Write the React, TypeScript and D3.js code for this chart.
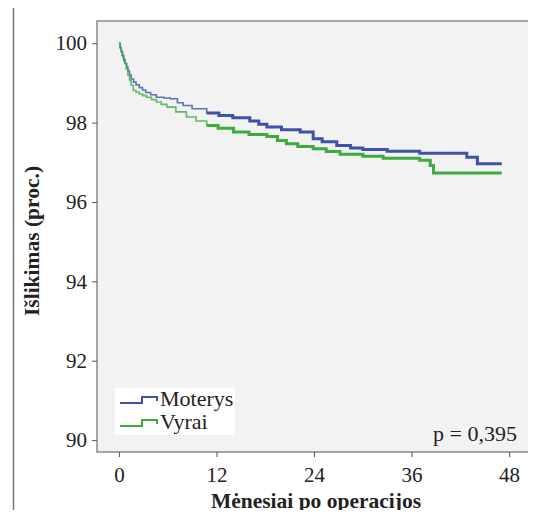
import React, { useEffect, useRef } from 'react';
import * as d3 from 'd3';

// Kaplan-Meier kreivės (nuskaityta nuo paveikslo)
const moterysMonths = [0, 0.15, 0.3, 0.45, 0.6, 0.75, 0.95, 1.1, 1.3, 1.5, 1.8, 2.1, 2.5, 2.9, 3.3, 3.9, 4.6, 5.5, 6.3, 7.2, 7.9, 9.0, 10.8, 12.3, 14.0, 16.1, 17.2, 18.2, 20.0, 22.3, 23.9, 25.0, 26.8, 28.5, 30.0, 33.0, 37.0, 42.8, 44.1, 47.1];
const moterysValues = [100, 99.88, 99.78, 99.68, 99.58, 99.49, 99.4, 99.3, 99.2, 99.1, 99.02, 98.95, 98.88, 98.82, 98.76, 98.7, 98.64, 98.62, 98.6, 98.5, 98.43, 98.35, 98.24, 98.18, 98.12, 98.04, 97.96, 97.89, 97.82, 97.76, 97.59, 97.52, 97.42, 97.36, 97.32, 97.28, 97.23, 97.13, 96.96, 96.96];

const vyraiMonths = [0, 0.12, 0.25, 0.37, 0.5, 0.62, 0.74, 0.9, 1.1, 1.3, 1.5, 1.76, 2.1, 2.5, 2.9, 3.4, 4.0, 4.6, 5.2, 5.9, 7.0, 8.3, 9.5, 10.8, 12.2, 14.1, 16.0, 18.2, 19.5, 20.6, 22.0, 23.9, 25.5, 27.2, 30.0, 32.5, 37.0, 38.3, 38.7, 47.1];
const vyraiValues = [100, 99.9, 99.8, 99.7, 99.62, 99.55, 99.49, 99.35, 99.2, 99.06, 98.94, 98.81, 98.77, 98.72, 98.68, 98.64, 98.58, 98.52, 98.46, 98.39, 98.27, 98.14, 98.04, 97.93, 97.86, 97.76, 97.7, 97.65, 97.55, 97.47, 97.4, 97.34, 97.27, 97.2, 97.15, 97.1, 97.05, 96.92, 96.73, 96.73];

const xTicks = [0, 12, 24, 36, 48];
const yTicks = [90, 92, 94, 96, 98, 100];
const seriesNames = ['Moterys', 'Vyrai'];
const seriesColors = ['#3f51a8', '#3dac3f'];

const FONT = "'Liberation Serif', 'Times New Roman', serif";

const App = () => {
  const ref = useRef(null);

  useEffect(() => {
    const W = 536;
    const H = 518;
    const plot = { left: 97, top: 21, right: 529, bottom: 452 };

    d3.select(ref.current).selectAll('*').remove();
    const svg = d3
      .select(ref.current)
      .append('svg')
      .attr('width', W)
      .attr('height', H)
      .style('display', 'block');

    svg.append('rect').attr('width', W).attr('height', H).attr('fill', '#fff');

    // išorinis rėmelis
    svg
      .append('path')
      .attr('d', `M13.5,${H} V5.5 H${W}`)
      .attr('fill', 'none')
      .attr('stroke', '#777')
      .attr('stroke-width', 1.5);

    const x = d3.scaleLinear().domain([-2.7, 50.45]).range([plot.left, plot.right]);
    const y = d3.scaleLinear().domain([89.7, 100.56]).range([plot.bottom, plot.top]);

    // fonas
    svg
      .append('rect')
      .attr('x', plot.left)
      .attr('y', plot.top)
      .attr('width', plot.right - plot.left)
      .attr('height', plot.bottom - plot.top)
      .attr('fill', '#f2f2f2')
      .attr('stroke', '#8a8a8a')
      .attr('stroke-width', 1.5);

    // ašys
    const xAxis = svg
      .append('g')
      .attr('transform', `translate(0,${plot.bottom})`)
      .call(d3.axisBottom(x).tickValues(xTicks).tickSize(5).tickPadding(10));
    xAxis.select('.domain').remove();
    xAxis.selectAll('line').attr('stroke', '#555');
    xAxis.selectAll('text').attr('class', 'tick-lbl');

    const yAxis = svg
      .append('g')
      .attr('transform', `translate(${plot.left},0)`)
      .call(d3.axisLeft(y).tickValues(yTicks).tickSize(5).tickPadding(5));
    yAxis.select('.domain').remove();
    yAxis.selectAll('line').attr('stroke', '#555');
    yAxis.selectAll('text').attr('class', 'tick-lbl');

    // kreivės
    const line = d3
      .line()
      .x(d => x(d[0]))
      .y(d => y(d[1]))
      .curve(d3.curveStepAfter);

    const series = [
      d3.zip(moterysMonths, moterysValues),
      d3.zip(vyraiMonths, vyraiValues),
    ];

    series.forEach((pts, i) => {
      const split = pts.findIndex(p => p[0] >= 12);
      svg
        .append('path')
        .attr('d', line(pts.slice(0, split + 1)))
        .attr('fill', 'none')
        .attr('stroke', seriesColors[i])
        .attr('stroke-opacity', 0.8)
        .attr('stroke-width', 1.6);
      svg
        .append('path')
        .attr('d', line(pts.slice(split - 1)))
        .attr('fill', 'none')
        .attr('stroke', seriesColors[i])
        .attr('stroke-width', 3);
    });

    // legenda
    const legend = svg.append('g').attr('transform', 'translate(115,388)');
    legend.append('rect').attr('width', 120).attr('height', 47).attr('fill', '#fff');
    seriesNames.forEach((name, i) => {
      const g = legend.append('g').attr('transform', `translate(0,${i * 23})`);
      g.append('path')
        .attr('d', 'M5,15 H27 V9 H42 V13')
        .attr('fill', 'none')
        .attr('stroke', seriesColors[i])
        .attr('stroke-width', 2);
      g.append('text')
        .attr('class', 'lbl')
        .attr('x', 45)
        .attr('y', 18)
        .text(name);
    });

    svg
      .append('text')
      .attr('class', 'lbl')
      .attr('x', 517)
      .attr('y', 441)
      .attr('text-anchor', 'end')
      .text('p = 0,395');

    // ašių pavadinimai
    svg
      .append('text')
      .attr('class', 'ttl')
      .attr('x', 316)
      .attr('y', 508)
      .attr('text-anchor', 'middle')
      .text('Mėnesiai po operacijos');

    svg
      .append('text')
      .attr('class', 'ttl')
      .attr('transform', 'translate(39,241) rotate(-90)')
      .attr('text-anchor', 'middle')
      .text('Išlikimas (proc.)');

    // šriftai
    svg.selectAll('text').style('font-family', FONT).style('fill', '#222');
    svg.selectAll('.tick-lbl').style('font-size', '21px');
    svg.selectAll('.lbl').style('font-size', '22px');
    svg.selectAll('.ttl').style('font-size', '21.5px').style('font-weight', 'bold');
  }, []);

  return <div ref={ref} style={{ width: 536, height: 518, margin: -8 }}></div>;
};

export default App;
